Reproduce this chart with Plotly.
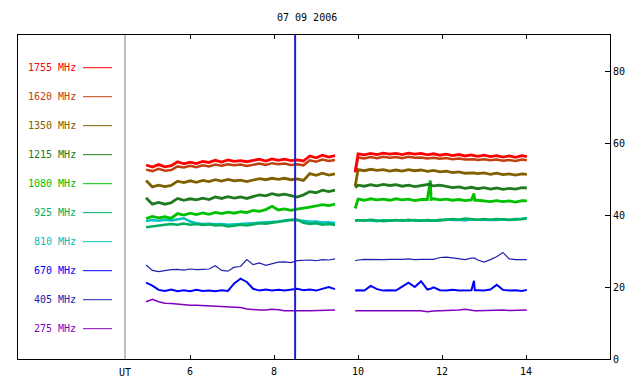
import plotly.graph_objects as go

TITLE = "07 09 2006"
FREQS = ["1755 MHz", "1620 MHz", "1350 MHz", "1215 MHz", "1080 MHz",
         "925 MHz", "810 MHz", "670 MHz", "405 MHz", "275 MHz"]
COLORS = ["#ff0000", "#c04010", "#806000", "#207a20", "#00c000",
          "#00b060", "#00c0c0", "#0000ff", "#2020b0", "#8000c0"]
WIDTHS = [2.8, 2.5, 2.8, 2.8, 2.8, 2.5, 2.5, 2, 1.2, 1.5]

T1 = [4.95, 5.10, 5.25, 5.40, 5.55, 5.70, 5.85, 6.00, 6.15, 6.30, 6.45,
      6.60, 6.75, 6.90, 7.05, 7.20, 7.35, 7.50, 7.65, 7.80, 7.95, 8.10,
      8.25, 8.40, 8.55, 8.70, 8.85, 9.00, 9.15, 9.30, 9.45]
T2 = [9.93, 10.00, 10.15, 10.30, 10.45, 10.60, 10.75, 10.90, 11.05, 11.20,
      11.35, 11.50, 11.65, 11.72, 11.74, 11.80, 11.95, 12.10, 12.25, 12.40,
      12.55, 12.70, 12.76, 12.78, 12.85, 13.00, 13.15, 13.30, 13.45, 13.60,
      13.75, 13.90, 14.02]

S1755_A = [53.9, 53.3, 54.0, 53.4, 53.7, 54.8, 54.2, 54.7, 54.3, 54.9, 54.6, 55.2, 54.7, 55.3, 54.9, 55.1,
           54.8, 55.2, 55.5, 55.0, 55.6, 55.2, 55.5, 55.1, 55.3, 55.0, 56.4, 55.9, 56.6, 56.1, 56.5]
S1755_B = [52.0, 57.0, 56.7, 57.1, 56.8, 57.2, 56.9, 57.1, 56.8, 57.2, 56.9, 57.1, 56.7, 56.9, 56.8,
           57.0, 56.6, 56.9, 56.5, 56.8, 56.4, 56.7, 56.5, 56.4, 56.3, 56.6, 56.2, 56.5, 56.1, 56.4,
           56.0, 56.5, 56.2]
S1620_A = [52.6, 52.2, 52.8, 52.3, 52.5, 53.5, 53.2, 53.7, 53.3, 53.8, 53.5, 54.0, 53.7, 54.1, 53.8, 54.0,
           53.6, 54.0, 54.3, 53.9, 54.4, 54.1, 54.3, 53.9, 54.1, 53.8, 55.2, 54.8, 55.4, 55.0, 55.3]
S1620_B = [51.8, 56.0, 55.7, 56.1, 55.8, 56.2, 55.9, 56.1, 55.8, 56.2, 55.9, 56.0, 55.7, 55.8, 55.8,
           55.9, 55.6, 55.8, 55.5, 55.7, 55.4, 55.6, 55.5, 55.4, 55.3, 55.5, 55.2, 55.4, 55.1, 55.3,
           55.0, 55.4, 55.2]
S1350_A = [49.6, 47.8, 48.3, 47.9, 48.2, 49.4, 49.0, 49.5, 49.1, 49.6, 49.3, 49.8, 49.4, 49.9, 49.5, 49.7,
           49.3, 49.8, 50.1, 49.8, 50.2, 49.9, 50.2, 49.8, 50.0, 49.6, 51.5, 51.0, 51.6, 51.1, 51.4]
S1350_B = [48.0, 52.6, 52.3, 52.7, 52.4, 52.6, 52.2, 52.5, 52.2, 52.6, 52.3, 52.5, 52.1, 52.3, 52.2,
           52.4, 52.0, 52.2, 51.8, 52.0, 51.6, 51.8, 51.7, 51.6, 51.5, 51.7, 51.3, 51.6, 51.2, 51.4,
           51.1, 51.4, 51.3]
S1215_A = [44.8, 43.0, 43.5, 43.0, 43.4, 44.6, 44.1, 44.5, 44.2, 44.7, 44.3, 45.0, 44.6, 45.1, 44.7, 45.0,
           44.6, 45.2, 45.6, 45.3, 45.9, 45.5, 45.8, 45.4, 45.0, 45.6, 46.5, 46.2, 46.9, 46.5, 46.9]
S1215_B = [47.6, 48.3, 48.0, 48.4, 48.1, 48.5, 48.2, 48.4, 48.0, 48.3, 47.9, 48.2, 48.3, 48.6, 48.2,
           48.1, 48.3, 47.9, 47.6, 47.8, 47.4, 47.7, 47.5, 47.4, 47.3, 47.6, 47.2, 47.5, 47.1, 47.4,
           47.2, 47.6, 47.5]
S1080_A = [39.0, 39.6, 39.2, 39.5, 39.1, 40.4, 40.0, 40.5, 40.1, 40.6, 40.2, 40.7, 40.4, 40.8, 40.5, 40.9,
           40.7, 41.3, 41.0, 41.5, 42.4, 41.4, 41.7, 41.3, 41.6, 41.8, 42.2, 42.5, 42.9, 42.6, 43.0]
S1080_B = [41.8, 44.4, 44.1, 44.5, 44.2, 44.4, 44.1, 44.5, 44.2, 44.4, 44.0, 44.3, 44.3, 49.6, 44.3,
           44.5, 44.2, 44.4, 44.1, 44.3, 44.0, 44.2, 46.0, 44.1, 44.1, 44.0, 43.7, 44.0, 43.7, 43.9,
           43.6, 44.0, 43.9]
S925_A = [36.6, 36.9, 37.1, 37.3, 37.5, 37.3, 37.6, 37.3, 37.5, 37.2, 37.4, 37.1, 37.2, 36.8, 37.0, 37.3,
          37.1, 37.5, 37.7, 37.6, 37.9, 38.1, 38.4, 38.6, 38.7, 37.8, 37.5, 37.7, 37.3, 37.5, 37.2]
S925_B = [38.4, 38.6, 38.4, 38.7, 38.5, 38.3, 38.5, 38.6, 38.4, 38.7, 38.5, 38.4, 38.6, 38.5, 38.5,
          38.4, 38.7, 38.6, 38.9, 38.7, 39.0, 38.8, 38.8, 38.8, 38.7, 38.9, 38.7, 38.9, 38.8, 38.7,
          38.9, 38.8, 39.1]
S810_A = [38.3, 38.6, 38.4, 38.7, 38.5, 38.8, 39.1, 38.2, 37.7, 37.5, 37.6, 37.4, 37.5, 37.3, 37.4, 37.6,
          37.5, 37.8, 37.9, 37.8, 38.0, 38.2, 38.5, 38.7, 38.6, 38.3, 38.1, 38.2, 37.9, 38.0, 37.8]
S810_B = [38.5, 38.4, 38.6, 38.5, 38.3, 38.6, 38.4, 38.5, 38.6, 38.4, 38.6, 38.5, 38.3, 38.4, 38.4,
          38.5, 38.4, 38.8, 38.6, 38.7, 38.5, 38.8, 38.7, 38.7, 38.6, 38.5, 38.7, 38.6, 38.8, 38.6,
          38.7, 38.9, 39.2]
S670_A = [21.2, 20.4, 19.2, 18.9, 19.3, 18.8, 19.1, 18.8, 19.2, 18.9, 19.0, 18.8, 19.1, 18.9, 21.0, 22.3,
          21.4, 19.5, 19.0, 19.3, 19.0, 19.2, 19.0, 19.3, 19.5, 19.1, 19.3, 19.0, 19.6, 20.0, 19.4]
S670_B = [19.0, 19.1, 19.0, 20.3, 19.4, 19.0, 19.1, 19.0, 20.1, 21.2, 20.0, 21.6, 19.3, 19.4, 19.6,
          19.9, 19.1, 19.0, 19.2, 19.0, 19.1, 19.1, 21.7, 19.1, 19.1, 19.0, 19.3, 20.6, 19.2, 19.0,
          19.1, 18.9, 19.2]
S405_A = [26.1, 24.6, 24.3, 24.6, 24.8, 24.9, 24.7, 25.0, 24.8, 24.9, 25.0, 25.9, 24.6, 24.4, 25.5, 25.7,
          27.6, 26.2, 26.7, 26.0, 26.5, 26.9, 27.0, 26.8, 27.3, 27.4, 27.5, 27.3, 27.6, 27.5, 27.8]
S405_B = [27.3, 27.5, 27.7, 27.6, 27.7, 27.6, 27.7, 27.6, 27.7, 27.8, 27.6, 27.7, 27.6, 27.6, 27.6,
          27.7, 28.2, 28.3, 28.1, 27.8, 27.6, 28.0, 28.0, 28.0, 27.5, 26.9, 27.6, 28.4, 29.6, 27.8,
          27.6, 27.7, 27.6]
S275_A = [15.9, 16.6, 15.9, 15.5, 15.4, 15.2, 15.1, 14.9, 14.9, 14.8, 14.9, 14.6, 14.5, 14.4, 14.3, 14.3,
          13.9, 13.7, 13.6, 13.6, 13.8, 13.7, 13.4, 13.4, 13.3, 13.4, 13.4, 13.5, 13.4, 13.5, 13.6]
S275_B = [13.4, 13.4, 13.3, 13.4, 13.4, 13.4, 13.3, 13.4, 13.4, 13.2, 13.4, 13.4, 13.1, 13.1, 13.2,
          13.3, 13.4, 13.4, 13.4, 13.6, 13.8, 13.4, 13.4, 13.4, 13.4, 13.5, 13.5, 13.6, 13.6, 13.5,
          13.6, 13.5, 13.6]

SERIES = [(S1755_A, S1755_B), (S1620_A, S1620_B), (S1350_A, S1350_B), (S1215_A, S1215_B),
          (S1080_A, S1080_B), (S925_A, S925_B), (S810_A, S810_B), (S670_A, S670_B),
          (S405_A, S405_B), (S275_A, S275_B)]

MARK_TIME = 8.5
X_TICKS = [6, 8, 10, 12, 14]
Y_TICKS = [0, 20, 40, 60, 80]
X_RANGE = [1.9, 16.0]
Y_RANGE = [0, 90]

# page body adds an 8px offset; plot area wanted at viewport (18,35)-(610,359)
OFF = 8
W, H = 640, 384
PL, PT, PR, PB = 18, 35, 610, 359
PW, PH = PR - PL, PB - PT
ML, MT = PL - OFF, PT - OFF
MR, MB = W - ML - PW, H - MT - PH
FONT = "DejaVu Sans Mono"


def px_x(px):
    return (px - PL) / PW


def px_y(py):
    return (PB - py) / PH


fig = go.Figure()
for i in reversed(range(len(FREQS))):
    a, b = SERIES[i]
    fig.add_trace(go.Scatter(
        x=T1 + [None] + T2, y=a + [None] + b, mode="lines",
        line=dict(color=COLORS[i], width=WIDTHS[i]),
        connectgaps=False, showlegend=False, hoverinfo="skip"))

shapes = []
annotations = []
for k, (name, col) in enumerate(zip(FREQS, COLORS)):
    py = 67.7 + 29.0 * k
    annotations.append(dict(x=px_x(77.5), y=px_y(py), xref="paper", yref="paper",
                            text=name, showarrow=False, xanchor="right", yanchor="middle",
                            font=dict(family=FONT, size=10, color=col)))
    shapes.append(dict(type="line", xref="paper", yref="paper",
                       x0=px_x(83), x1=px_x(112), y0=px_y(py), y1=px_y(py),
                       line=dict(color=col, width=1)))

shapes.append(dict(type="line", xref="paper", yref="paper",
                   x0=px_x(125), x1=px_x(125), y0=0, y1=1,
                   line=dict(color="#808080", width=1)))
shapes.append(dict(type="line", xref="x", yref="paper",
                   x0=MARK_TIME, x1=MARK_TIME, y0=0, y1=1,
                   line=dict(color="#2020c8", width=2)))

annotations.append(dict(x=px_x(125), y=0, xref="paper", yref="paper", text="UT",
                        showarrow=False, xanchor="center", yanchor="top", yshift=-6,
                        font=dict(family=FONT, size=10, color="black")))
annotations.append(dict(x=px_x(306.5), y=px_y(18), xref="paper", yref="paper", text=TITLE,
                        showarrow=False, xanchor="center", yanchor="middle",
                        font=dict(family=FONT, size=10, color="black")))

fig.update_layout(
    width=W, height=H,
    margin=dict(l=ML, r=MR, t=MT, b=MB, pad=0),
    paper_bgcolor="white", plot_bgcolor="white",
    font=dict(family=FONT, size=10, color="black"),
    shapes=shapes, annotations=annotations, showlegend=False,
    xaxis=dict(range=X_RANGE, tickvals=X_TICKS, ticktext=[str(v) for v in X_TICKS],
               ticks="inside", ticklen=4, tickcolor="black", showgrid=False, zeroline=False,
               showline=True, linecolor="black", linewidth=1, mirror="ticks",
               ticklabelstandoff=3,
               tickfont=dict(family=FONT, size=10, color="black")),
    yaxis=dict(range=Y_RANGE, tickvals=Y_TICKS, side="right",
               ticks="inside", ticklen=5, tickcolor="black", showgrid=False, zeroline=False,
               showline=True, linecolor="black", linewidth=1, mirror=True,
               tickfont=dict(family=FONT, size=10, color="black")),
)

fig.write_html("out.html")
